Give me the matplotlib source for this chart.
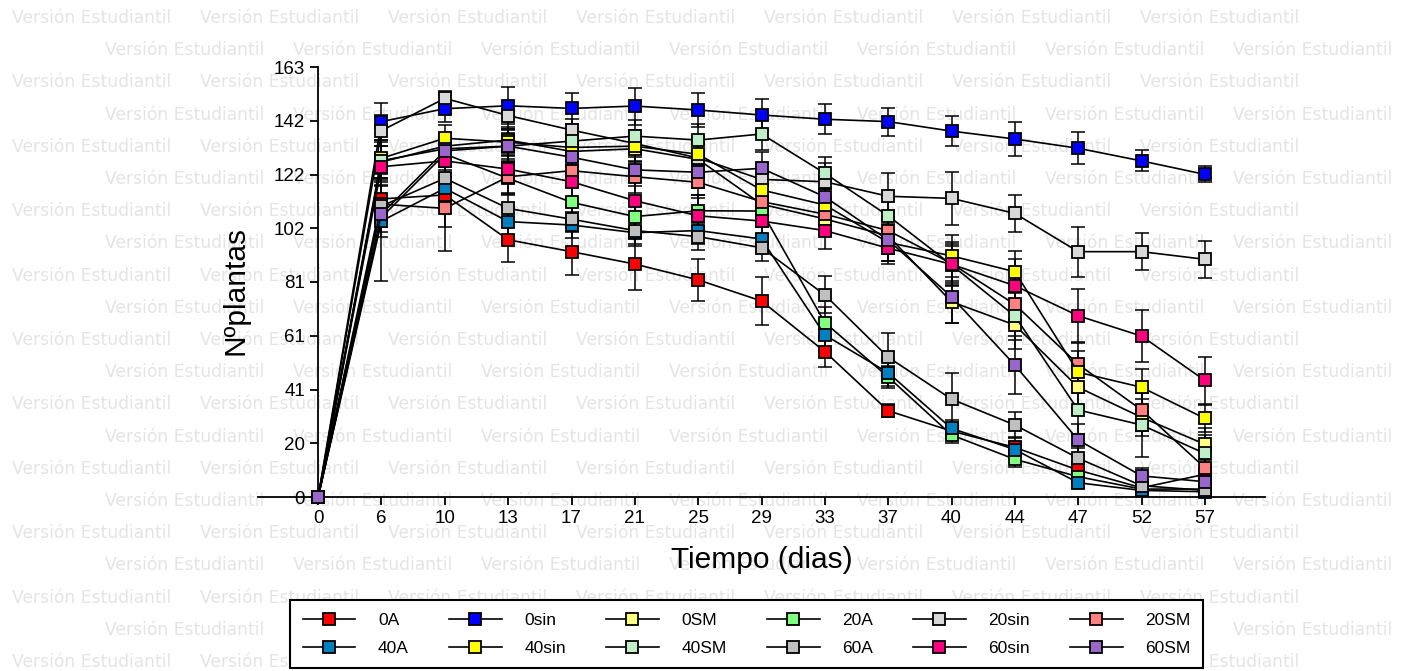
import numpy as np
import matplotlib
matplotlib.use("Agg")
import matplotlib.pyplot as plt

# eje x: dias de muestreo (categorias equiespaciadas)
dias = ["0", "6", "10", "13", "17", "21", "25", "29", "33", "37", "40", "44", "47", "52", "57"]

# medias (N de plantas) por tratamiento
s_0A    = [0, 113, 114.5, 97.5, 93, 88.3, 82.3, 74.3, 55.1, 32.7, 25, 18.8, 10.2, 3.5, 8.6]
s_0sin  = [0, 142.3, 147.2, 148.3, 147.3, 148.2, 146.7, 144.8, 143.2, 142.3, 138.7, 135.7, 132.2, 127.4, 122.3]
s_0SM   = [0, 127, 133, 135.3, 131, 132, 128, 111, 105.4, 99, 74, 65.2, 41.6, 30.2, 20]
s_20A   = [0, 106, 130, 120.8, 111.7, 106.3, 108.5, 108.4, 66.1, 45.5, 23.5, 14.3, 7.7, 3, 3]
s_20sin = [0, 138.9, 151.1, 144.6, 139.1, 134, 128.5, 120.4, 119.5, 114, 113.2, 107.5, 93, 93, 90.1]
s_20SM  = [0, 111, 109.4, 121.4, 123.7, 121.4, 119.3, 112, 107.2, 101, 88.5, 73, 50.3, 33, 11.1]
s_40A   = [0, 104.6, 117, 104.4, 103.1, 100.2, 101, 97.8, 61.4, 47.1, 26, 18, 5.4, 2.5, 2]
s_40sin = [0, 128.4, 136, 134.5, 132.5, 133, 129.9, 116.4, 110.7, 96.5, 91.4, 85.4, 47.3, 41.6, 29.8]
s_40SM  = [0, 127.5, 132, 133, 134.9, 136.8, 135.3, 137.6, 122.7, 106.6, 88, 68.6, 33, 27.3, 16.5]
s_60A   = [0, 110.3, 120.8, 109.4, 105.3, 101, 98.7, 94.5, 76.6, 53, 37.1, 27.3, 14.7, 4.3, 2.5]
s_60sin = [0, 125.2, 127.4, 124.3, 119.5, 112.3, 106.6, 104.6, 101, 94.3, 88.2, 80.1, 68.7, 61, 44.2]
s_60SM  = [0, 107.3, 131.2, 133, 128.8, 124, 123.1, 124.6, 113.8, 97.4, 75.9, 50, 21.6, 8, 5.8]

# desvios (barras de error)
e_0A    = [0, 8, 12, 8.5, 9, 10, 8, 9, 6, 2.5, 3, 4, 3, 1.5, 2]
e_0sin  = [0, 7, 5, 7, 6, 7, 6.5, 6, 5.6, 5.3, 5.7, 6.6, 6, 4, 3]
e_0SM   = [0, 6, 5, 5, 5, 6, 6, 7, 6, 7, 8, 9, 8, 7, 6]
e_20A   = [0, 24, 6, 6, 6, 6, 6, 6, 6, 4, 3, 3, 2, 1.5, 1]
e_20sin = [0, 6, 2.7, 5, 4, 5, 6, 6, 7, 9, 10, 7, 9.5, 7, 7]
e_20SM  = [0, 7, 16, 6, 6, 6, 6, 6, 6, 7, 8, 8, 8, 8, 6]
e_40A   = [0, 6, 6, 5, 5, 5, 5, 5, 6, 5, 3, 3, 2, 1, 1]
e_40sin = [0, 6, 5, 5, 5, 6, 6, 6, 6, 7, 8, 8, 8, 7, 5]
e_40SM  = [0, 8, 5, 5, 5, 6, 6, 6, 6, 7, 8, 9, 9, 12, 7]
e_60A   = [0, 8, 6, 5, 5, 5, 5, 5, 7, 9, 10, 5, 4, 1.5, 1]
e_60sin = [0, 5, 6, 5, 6, 7, 8, 6, 7, 6, 7, 10, 10, 10, 9]
e_60SM  = [0, 7, 6, 6, 6, 6, 6, 6, 6, 8, 10, 11, 6, 3, 2]

nombres = ["0A", "0sin", "0SM", "20A", "20sin", "20SM",
           "40A", "40sin", "40SM", "60A", "60sin", "60SM"]
medias = [s_0A, s_0sin, s_0SM, s_20A, s_20sin, s_20SM,
          s_40A, s_40sin, s_40SM, s_60A, s_60sin, s_60SM]
errores = [e_0A, e_0sin, e_0SM, e_20A, e_20sin, e_20SM,
           e_40A, e_40sin, e_40SM, e_60A, e_60sin, e_60SM]
colores = ["#FF0000", "#0000FF", "#FFFF80", "#80FF80", "#D9D9D9", "#FF8080",
           "#0080C0", "#FFFF00", "#C0EEC8", "#C0C0C0", "#FF0080", "#9966CC"]

yticks_lab = ["0", "20", "41", "61", "81", "102", "122", "142", "163"]
ymax = 163

W, H = 1403, 671
fig = plt.figure(figsize=(W/100, H/100), dpi=100)

# marca de agua de fondo (solo copias completas)
for k in range(21):
    yy = 18 + 32.2*k
    xx = 12 if k % 2 == 0 else 105
    while xx + 165 < W:
        fig.text(xx/W, 1 - yy/H, "Versión Estudiantil", fontsize=12.3, color="#e4e4e4",
                 family="DejaVu Sans", ha="left", va="center", zorder=-5)
        xx += 188

ax = fig.add_axes([258/W, (H-497)/H, (1265-258)/W, 430/H])
ax.patch.set_alpha(0)
x = np.arange(len(dias))

lineas = []
for nom, m, e, c in zip(nombres, medias, errores, colores):
    ax.errorbar(x, m, yerr=e, fmt="none", ecolor="k", elinewidth=1.1,
                capsize=4.8, capthick=1.1, clip_on=False, zorder=2)
    ln, = ax.plot(x, m, "-s", color="k", lw=1.2, ms=8, mfc=c, mec="k",
                  mew=1.3, label=nom, clip_on=False, zorder=3)
    lineas.append(ln)

ax.set_xlim(-0.95, len(dias) - 0.05)
ax.set_ylim(0, ymax)
ax.set_xticks(x)
ax.set_xticklabels(dias)
ax.set_yticks(np.linspace(0, ymax, 9))
ax.set_yticklabels(yticks_lab)
for s in ["top", "right"]:
    ax.spines[s].set_visible(False)
ax.spines["left"].set_position(("data", 0))
for s in ["left", "bottom"]:
    ax.spines[s].set_linewidth(1.3)
ax.tick_params(direction="out", length=6, width=1.3, labelsize=13.5, pad=3.5)
for t in ax.get_xticklabels() + ax.get_yticklabels():
    t.set_family("Liberation Sans")

ax.set_xlabel("Tiempo (dias)", fontsize=21.5, family="Liberation Sans")
ax.xaxis.set_label_coords(0.5, -0.113)
ax.set_ylabel("Nºplantas", fontsize=21.5, family="Liberation Sans")
ax.yaxis.set_label_coords(-0.008, 0.48)

# leyenda: 2 filas x 6 columnas (matplotlib llena por columnas)
orden = [0, 6, 1, 7, 2, 8, 3, 9, 4, 10, 5, 11]
leg = fig.legend([lineas[i] for i in orden], [nombres[i] for i in orden], ncol=6,
                 loc="upper left", bbox_to_anchor=(290/W, 1 - 600/H),
                 frameon=True, fancybox=False, edgecolor="black", framealpha=1,
                 borderaxespad=0, handlelength=3.05, handletextpad=1.3,
                 columnspacing=2.3, borderpad=0.72, labelspacing=0.75,
                 prop={"family": "Liberation Sans", "size": 12.5})
leg.get_frame().set_linewidth(1.5)

fig.savefig("out.png", dpi=100)
